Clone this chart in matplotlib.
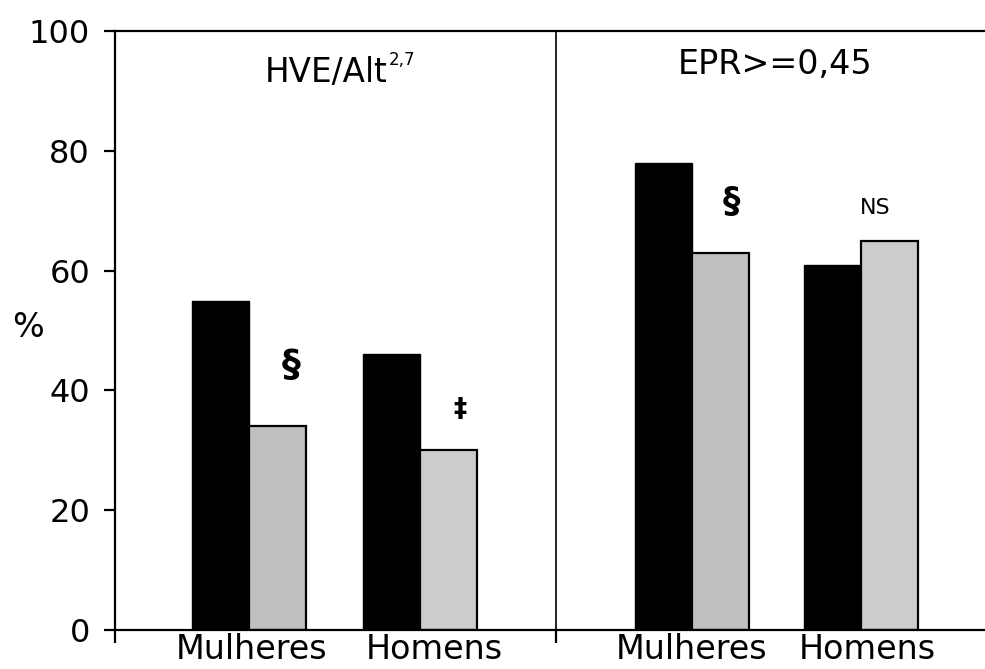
import matplotlib
matplotlib.use("Agg")
import matplotlib.pyplot as plt

# Data
panel_titles = ["HVE/Alt", "EPR>=0,45"]
title_sup = ["2,7", ""]
categories = ["Mulheres", "Homens"]
black_vals = [[55, 46], [78, 61]]
gray_vals = [[34, 30], [63, 65]]
annotations = [["§", "‡"], ["§", "NS"]]
yticks = [0, 20, 40, 60, 80, 100]

# Layout (bar width = 1 unit)
group_centers = [[2.35, 5.35], [10.12, 13.09]]
label_pos = [2.39, 5.60, 10.12, 13.19]
divider = 7.74
xmax = 15.26
gray_colors = ["#c0c0c0", "#cccccc"]

fig = plt.figure(figsize=(9.85, 6.69), dpi=100)
ax = fig.add_axes([115/985, 1-630/669, 1-115/985, (630-31)/669])

for p in range(2):
    for c in range(2):
        xc = group_centers[p][c]
        ax.bar(xc - 0.5, black_vals[p][c], width=1.0, color="black",
               edgecolor="black", linewidth=1.0)
        ax.bar(xc + 0.5, gray_vals[p][c], width=1.0, color=gray_colors[c],
               edgecolor="black", linewidth=1.6)

ax.axvline(divider, color="black", lw=1.2)

ax.set_xlim(0, xmax)
ax.set_ylim(0, 100)
ax.set_yticks(yticks)
ax.set_yticklabels([str(v) for v in yticks])
ax.tick_params(axis="y", length=8, width=1.6, pad=10, labelsize=23)

ax.set_xticks([0, divider])
ax.set_xticklabels(["", ""])
ax.tick_params(axis="x", which="major", length=9, width=1.6)
ax.set_xticks(label_pos, minor=True)
ax.set_xticklabels(categories * 2, minor=True)
ax.tick_params(axis="x", which="minor", length=0, pad=2, labelsize=24)

for s in ["top", "bottom", "left"]:
    ax.spines[s].set_linewidth(1.6)
ax.spines["right"].set_visible(False)

# Panel titles
t1 = ax.text(2.63, 91.5, panel_titles[0], ha="left", va="baseline", fontsize=23.5)
ax.text(11.58, 92.8, panel_titles[1], ha="center", va="baseline", fontsize=24)
fig.canvas.draw()
bb = t1.get_window_extent(renderer=fig.canvas.get_renderer())
xt, yt = ax.transData.transform((2.63, 91.5))
ax.annotate(title_sup[0], xy=(bb.x1, yt), xycoords="figure pixels",
            xytext=(1, 12), textcoords="offset points",
            ha="left", va="baseline", fontsize=12)

# Significance marks
ann_pos = [[(3.09, 44.0), (6.05, 36.7)], [(10.81, 71.5), (13.33, 70.5)]]
ann_size = [[27, 19], [25, 16]]
for p in range(2):
    for c in range(2):
        x, y = ann_pos[p][c]
        t = annotations[p][c]
        if t == "NS":
            ax.text(x, y, t, ha="center", va="center", fontsize=ann_size[p][c])
        else:
            ax.text(x, y, t, ha="center", va="center",
                    fontsize=ann_size[p][c], fontweight="bold")

fig.text(28/985, 1-328/669, "%", ha="center", va="center", fontsize=24)

fig.savefig("out.png", dpi=100)
